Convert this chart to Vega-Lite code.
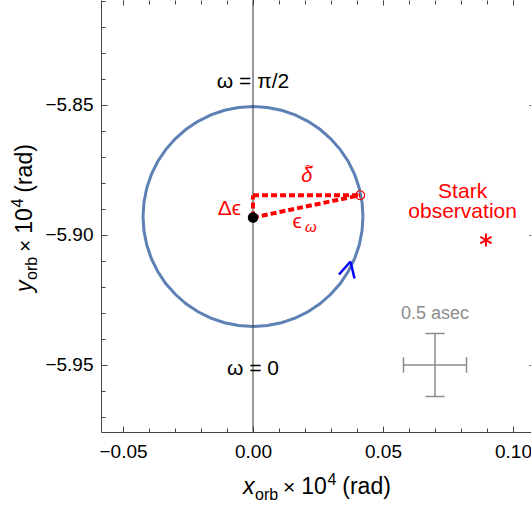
{
  "$schema": "https://vega.github.io/schema/vega-lite/v6.json",
  "width": 430,
  "height": 432,
  "autosize": {"type": "none"},
  "padding": {"left": 101, "top": 0, "right": 0, "bottom": 74},
  "config": {
    "view": {"stroke": null},
    "font": "Liberation Sans",
    "axis": {"grid": false, "domainColor": "#444", "tickColor": "#444", "tickWidth": 1, "domainWidth": 1, "labelColor": "#000", "labelFont": "Liberation Sans", "labelFontSize": 19, "title": null}
  },
  "datasets": {
    "circle": [
      {"i": 0, "x": 0.0423, "y": -5.8929}, {"i": 1, "x": 0.04194, "y": -5.88738}, {"i": 2, "x": 0.04086, "y": -5.88195},
      {"i": 3, "x": 0.03908, "y": -5.87671}, {"i": 4, "x": 0.03663, "y": -5.87175}, {"i": 5, "x": 0.03356, "y": -5.86715},
      {"i": 6, "x": 0.02991, "y": -5.86299}, {"i": 7, "x": 0.02575, "y": -5.85934}, {"i": 8, "x": 0.02115, "y": -5.85627},
      {"i": 9, "x": 0.01619, "y": -5.85382}, {"i": 10, "x": 0.01095, "y": -5.85204}, {"i": 11, "x": 0.00552, "y": -5.85096},
      {"i": 12, "x": 0.0, "y": -5.8506}, {"i": 13, "x": -0.00552, "y": -5.85096}, {"i": 14, "x": -0.01095, "y": -5.85204},
      {"i": 15, "x": -0.01619, "y": -5.85382}, {"i": 16, "x": -0.02115, "y": -5.85627}, {"i": 17, "x": -0.02575, "y": -5.85934},
      {"i": 18, "x": -0.02991, "y": -5.86299}, {"i": 19, "x": -0.03356, "y": -5.86715}, {"i": 20, "x": -0.03663, "y": -5.87175},
      {"i": 21, "x": -0.03908, "y": -5.87671}, {"i": 22, "x": -0.04086, "y": -5.88195}, {"i": 23, "x": -0.04194, "y": -5.88738},
      {"i": 24, "x": -0.0423, "y": -5.8929}, {"i": 25, "x": -0.04194, "y": -5.89842}, {"i": 26, "x": -0.04086, "y": -5.90385},
      {"i": 27, "x": -0.03908, "y": -5.90909}, {"i": 28, "x": -0.03663, "y": -5.91405}, {"i": 29, "x": -0.03356, "y": -5.91865},
      {"i": 30, "x": -0.02991, "y": -5.92281}, {"i": 31, "x": -0.02575, "y": -5.92646}, {"i": 32, "x": -0.02115, "y": -5.92953},
      {"i": 33, "x": -0.01619, "y": -5.93198}, {"i": 34, "x": -0.01095, "y": -5.93376}, {"i": 35, "x": -0.00552, "y": -5.93484},
      {"i": 36, "x": 0.0, "y": -5.9352}, {"i": 37, "x": 0.00552, "y": -5.93484}, {"i": 38, "x": 0.01095, "y": -5.93376},
      {"i": 39, "x": 0.01619, "y": -5.93198}, {"i": 40, "x": 0.02115, "y": -5.92953}, {"i": 41, "x": 0.02575, "y": -5.92646},
      {"i": 42, "x": 0.02991, "y": -5.92281}, {"i": 43, "x": 0.03356, "y": -5.91865}, {"i": 44, "x": 0.03663, "y": -5.91405},
      {"i": 45, "x": 0.03908, "y": -5.90909}, {"i": 46, "x": 0.04086, "y": -5.90385}, {"i": 47, "x": 0.04194, "y": -5.89842},
      {"i": 48, "x": 0.0423, "y": -5.8929}
    ],
    "dashes": [
      {"x": 0.0, "y": -5.8847, "x2": 0.0412, "y2": -5.8847},
      {"x": 0.0, "y": -5.8933, "x2": 0.0, "y2": -5.8847},
      {"x": 0.0, "y": -5.8933, "x2": 0.0412, "y2": -5.8847}
    ],
    "arrow": [
      {"x": 0.03308, "y": -5.9152, "x2": 0.0375, "y2": -5.9102},
      {"x": 0.0375, "y": -5.9102, "x2": 0.03904, "y2": -5.91674}
    ],
    "scalebar": [
      {"x": 0.05788, "y": -5.95, "x2": 0.08212, "y2": -5.95},
      {"x": 0.07, "y": -5.93788, "x2": 0.07, "y2": -5.96212},
      {"x": 0.05788, "y": -5.947, "x2": 0.05788, "y2": -5.953},
      {"x": 0.08212, "y": -5.947, "x2": 0.08212, "y2": -5.953},
      {"x": 0.0663, "y": -5.93788, "x2": 0.0737, "y2": -5.93788},
      {"x": 0.0663, "y": -5.96212, "x2": 0.0737, "y2": -5.96212}
    ],
    "txt": [
      {"g": "blk", "x": 0.0, "y": -5.84358, "text": "ω = π/2"},
      {"g": "blk", "x": 0.0, "y": -5.95385, "text": "ω = 0"},
      {"g": "red", "x": 0.08062, "y": -5.88577, "text": "Stark"},
      {"g": "red", "x": 0.08062, "y": -5.89346, "text": "observation"},
      {"g": "redi", "x": 0.02065, "y": -5.87962, "text": "δ"},
      {"g": "redt", "x": 0.02165, "y": -5.87558, "text": "~"},
      {"g": "redr", "x": -0.00462, "y": -5.89231, "text": "Δϵ"},
      {"g": "redl", "x": 0.01515, "y": -5.89712, "text": "ϵ"},
      {"g": "reds", "x": 0.02, "y": -5.89885, "text": "ω"},
      {"g": "gray", "x": 0.07, "y": -5.93243, "text": "0.5 asec"},
      {"g": "xti", "x": -0.003846, "y": -5.99962, "text": "x"},
      {"g": "xts", "x": 0.000769, "y": -6.00193, "text": "orb"},
      {"g": "xtm", "x": 0.011538, "y": -5.99962, "text": "×"},
      {"g": "xt", "x": 0.018577, "y": -5.99962, "text": "10"},
      {"g": "xts", "x": 0.028615, "y": -5.99616, "text": "4"},
      {"g": "xt", "x": 0.034346, "y": -5.99962, "text": "(rad)"},
      {"g": "yti", "x": -0.085, "y": -5.92193, "text": "y"},
      {"g": "yts", "x": -0.08308, "y": -5.91731, "text": "orb"},
      {"g": "ytm", "x": -0.085, "y": -5.90654, "text": "×"},
      {"g": "yt", "x": -0.085, "y": -5.8995, "text": "10"},
      {"g": "yts", "x": -0.08846, "y": -5.88947, "text": "4"},
      {"g": "yt", "x": -0.085, "y": -5.88374, "text": "(rad)"}
    ],
    "zero": [{"x": 0.0}],
    "dot": [{"x": 0.0, "y": -5.8933}],
    "ring": [{"x": 0.0412, "y": -5.8847}],
    "stark": [{"x": 0.0896, "y": -5.90193}]
  },
  "layer": [
    {
      "data": {"name": "circle"},
      "mark": {"type": "line", "color": "#5E81B5", "strokeWidth": 3, "clip": true},
      "encoding": {
        "x": {"field": "x", "type": "quantitative", "scale": {"domain": [-0.05846, 0.10692], "nice": false, "zero": false},
              "axis": {"orient": "bottom", "values": [-0.05, -0.04, -0.03, -0.02, -0.01, 0, 0.01, 0.02, 0.03, 0.04, 0.05, 0.06, 0.07, 0.08, 0.09, 0.1], "tickSize": -4, "labels": false, "domain": false}},
        "y": {"field": "y", "type": "quantitative", "scale": {"domain": [-5.97577, -5.80962], "nice": false, "zero": false},
              "axis": {"orient": "left", "values": [-5.97, -5.96, -5.95, -5.94, -5.93, -5.92, -5.91, -5.9, -5.89, -5.88, -5.87, -5.86, -5.85, -5.84, -5.83, -5.82, -5.81], "tickSize": -4, "labels": false, "domain": false}},
        "order": {"field": "i", "type": "quantitative"}
      }
    },
    {
      "data": {"name": "zero"},
      "mark": {"type": "rule", "color": "#333", "strokeWidth": 1},
      "encoding": {
        "x": {"field": "x", "type": "quantitative", "scale": {"domain": [-0.05846, 0.10692], "nice": false, "zero": false},
              "axis": {"orient": "bottom", "values": [-0.05, 0, 0.05, 0.1], "format": ".2f", "tickSize": -6, "labelPadding": 16, "domain": true, "labelFlush": false, "labelOverlap": false}}
      }
    },
    {
      "data": {"name": "dashes"},
      "mark": {"type": "rule", "color": "#FF0000", "strokeWidth": 4, "strokeDash": [6, 3]},
      "encoding": {
        "x": {"field": "x", "type": "quantitative", "scale": {"domain": [-0.05846, 0.10692], "nice": false, "zero": false},
              "axis": {"orient": "top", "values": [-0.05, 0, 0.05, 0.1], "tickSize": -5, "labels": false, "domain": false}},
        "y": {"field": "y", "type": "quantitative", "scale": {"domain": [-5.97577, -5.80962], "nice": false, "zero": false},
              "axis": {"orient": "left", "values": [-5.95, -5.9, -5.85], "format": ".2f", "tickSize": -6, "labelPadding": 14, "domain": true}},
        "x2": {"field": "x2"},
        "y2": {"field": "y2"}
      }
    },
    {
      "data": {"name": "arrow"},
      "mark": {"type": "rule", "color": "#0000FF", "strokeWidth": 2.5},
      "encoding": {
        "x": {"field": "x", "type": "quantitative", "scale": {"domain": [-0.05846, 0.10692], "nice": false, "zero": false},
              "axis": {"orient": "top", "values": [-0.05, -0.04, -0.03, -0.02, -0.01, 0, 0.01, 0.02, 0.03, 0.04, 0.05, 0.06, 0.07, 0.08, 0.09, 0.1], "tickSize": -4, "labels": false, "domain": false}},
        "y": {"field": "y", "type": "quantitative", "scale": {"domain": [-5.97577, -5.80962], "nice": false, "zero": false},
              "axis": {"orient": "right", "values": [-5.95, -5.9, -5.85], "tickSize": -2, "labels": false, "domain": false}},
        "x2": {"field": "x2"},
        "y2": {"field": "y2"}
      }
    },
    {
      "data": {"name": "scalebar"},
      "mark": {"type": "rule", "color": "#8C8C8C", "strokeWidth": 1.5},
      "encoding": {
        "x": {"field": "x", "type": "quantitative", "scale": {"domain": [-0.05846, 0.10692], "nice": false, "zero": false}, "axis": null},
        "y": {"field": "y", "type": "quantitative", "scale": {"domain": [-5.97577, -5.80962], "nice": false, "zero": false}, "axis": null},
        "x2": {"field": "x2"},
        "y2": {"field": "y2"}
      }
    },
    {
      "data": {"name": "dot"},
      "mark": {"type": "point", "shape": "circle", "filled": true, "color": "#000", "size": 110, "opacity": 1},
      "encoding": {
        "x": {"field": "x", "type": "quantitative", "scale": {"domain": [-0.05846, 0.10692], "nice": false, "zero": false}, "axis": null},
        "y": {"field": "y", "type": "quantitative", "scale": {"domain": [-5.97577, -5.80962], "nice": false, "zero": false}, "axis": null}
      }
    },
    {
      "data": {"name": "ring"},
      "mark": {"type": "point", "shape": "circle", "filled": false, "color": "#FF0000", "size": 80, "strokeWidth": 1.2, "opacity": 1},
      "encoding": {
        "x": {"field": "x", "type": "quantitative", "scale": {"domain": [-0.05846, 0.10692], "nice": false, "zero": false}, "axis": null},
        "y": {"field": "y", "type": "quantitative", "scale": {"domain": [-5.97577, -5.80962], "nice": false, "zero": false}, "axis": null}
      }
    },
    {
      "data": {"name": "stark"},
      "mark": {"type": "point", "shape": "M0,-1L0,1M-0.866,-0.5L0.866,0.5M-0.866,0.5L0.866,-0.5", "filled": false, "color": "#FF0000", "size": 170, "strokeWidth": 2, "opacity": 1},
      "encoding": {
        "x": {"field": "x", "type": "quantitative", "scale": {"domain": [-0.05846, 0.10692], "nice": false, "zero": false}, "axis": null},
        "y": {"field": "y", "type": "quantitative", "scale": {"domain": [-5.97577, -5.80962], "nice": false, "zero": false}, "axis": null}
      }
    },
    {
      "data": {"name": "txt"},
      "transform": [{"filter": "datum.g == 'blk'"}],
      "mark": {"type": "text", "color": "#000", "fontSize": 21, "align": "center", "baseline": "alphabetic"},
      "encoding": {
        "x": {"field": "x", "type": "quantitative", "scale": {"domain": [-0.05846, 0.10692], "nice": false, "zero": false}, "axis": null},
        "y": {"field": "y", "type": "quantitative", "scale": {"domain": [-5.97577, -5.80962], "nice": false, "zero": false}, "axis": null},
        "text": {"field": "text"}
      }
    },
    {
      "data": {"name": "txt"},
      "transform": [{"filter": "datum.g == 'red'"}],
      "mark": {"type": "text", "color": "#FF0000", "fontSize": 21, "align": "center", "baseline": "alphabetic"},
      "encoding": {
        "x": {"field": "x", "type": "quantitative", "scale": {"domain": [-0.05846, 0.10692], "nice": false, "zero": false}, "axis": null},
        "y": {"field": "y", "type": "quantitative", "scale": {"domain": [-5.97577, -5.80962], "nice": false, "zero": false}, "axis": null},
        "text": {"field": "text"}
      }
    },
    {
      "data": {"name": "txt"},
      "transform": [{"filter": "datum.g == 'redi'"}],
      "mark": {"type": "text", "color": "#FF0000", "fontSize": 20, "fontStyle": "italic", "align": "center", "baseline": "alphabetic"},
      "encoding": {
        "x": {"field": "x", "type": "quantitative", "scale": {"domain": [-0.05846, 0.10692], "nice": false, "zero": false}, "axis": null},
        "y": {"field": "y", "type": "quantitative", "scale": {"domain": [-5.97577, -5.80962], "nice": false, "zero": false}, "axis": null},
        "text": {"field": "text"}
      }
    },
    {
      "data": {"name": "txt"},
      "transform": [{"filter": "datum.g == 'redt'"}],
      "mark": {"type": "text", "color": "#FF0000", "fontSize": 15, "align": "center", "baseline": "alphabetic"},
      "encoding": {
        "x": {"field": "x", "type": "quantitative", "scale": {"domain": [-0.05846, 0.10692], "nice": false, "zero": false}, "axis": null},
        "y": {"field": "y", "type": "quantitative", "scale": {"domain": [-5.97577, -5.80962], "nice": false, "zero": false}, "axis": null},
        "text": {"field": "text"}
      }
    },
    {
      "data": {"name": "txt"},
      "transform": [{"filter": "datum.g == 'redr'"}],
      "mark": {"type": "text", "color": "#FF0000", "fontSize": 21, "align": "right", "baseline": "alphabetic"},
      "encoding": {
        "x": {"field": "x", "type": "quantitative", "scale": {"domain": [-0.05846, 0.10692], "nice": false, "zero": false}, "axis": null},
        "y": {"field": "y", "type": "quantitative", "scale": {"domain": [-5.97577, -5.80962], "nice": false, "zero": false}, "axis": null},
        "text": {"field": "text"}
      }
    },
    {
      "data": {"name": "txt"},
      "transform": [{"filter": "datum.g == 'redl'"}],
      "mark": {"type": "text", "color": "#FF0000", "fontSize": 21, "align": "left", "baseline": "alphabetic"},
      "encoding": {
        "x": {"field": "x", "type": "quantitative", "scale": {"domain": [-0.05846, 0.10692], "nice": false, "zero": false}, "axis": null},
        "y": {"field": "y", "type": "quantitative", "scale": {"domain": [-5.97577, -5.80962], "nice": false, "zero": false}, "axis": null},
        "text": {"field": "text"}
      }
    },
    {
      "data": {"name": "txt"},
      "transform": [{"filter": "datum.g == 'reds'"}],
      "mark": {"type": "text", "color": "#FF0000", "fontSize": 15, "fontStyle": "italic", "align": "left", "baseline": "alphabetic"},
      "encoding": {
        "x": {"field": "x", "type": "quantitative", "scale": {"domain": [-0.05846, 0.10692], "nice": false, "zero": false}, "axis": null},
        "y": {"field": "y", "type": "quantitative", "scale": {"domain": [-5.97577, -5.80962], "nice": false, "zero": false}, "axis": null},
        "text": {"field": "text"}
      }
    },
    {
      "data": {"name": "txt"},
      "transform": [{"filter": "datum.g == 'gray'"}],
      "mark": {"type": "text", "color": "#8C8C8C", "fontSize": 18, "align": "center", "baseline": "alphabetic"},
      "encoding": {
        "x": {"field": "x", "type": "quantitative", "scale": {"domain": [-0.05846, 0.10692], "nice": false, "zero": false}, "axis": null},
        "y": {"field": "y", "type": "quantitative", "scale": {"domain": [-5.97577, -5.80962], "nice": false, "zero": false}, "axis": null},
        "text": {"field": "text"}
      }
    },
    {
      "data": {"name": "txt"},
      "transform": [{"filter": "datum.g == 'xti'"}],
      "mark": {"type": "text", "color": "#000", "fontSize": 23, "fontStyle": "italic", "align": "left", "baseline": "alphabetic"},
      "encoding": {
        "x": {"field": "x", "type": "quantitative", "scale": {"domain": [-0.05846, 0.10692], "nice": false, "zero": false}, "axis": null},
        "y": {"field": "y", "type": "quantitative", "scale": {"domain": [-5.97577, -5.80962], "nice": false, "zero": false}, "axis": null},
        "text": {"field": "text"}
      }
    },
    {
      "data": {"name": "txt"},
      "transform": [{"filter": "datum.g == 'xt'"}],
      "mark": {"type": "text", "color": "#000", "fontSize": 23, "align": "left", "baseline": "alphabetic"},
      "encoding": {
        "x": {"field": "x", "type": "quantitative", "scale": {"domain": [-0.05846, 0.10692], "nice": false, "zero": false}, "axis": null},
        "y": {"field": "y", "type": "quantitative", "scale": {"domain": [-5.97577, -5.80962], "nice": false, "zero": false}, "axis": null},
        "text": {"field": "text"}
      }
    },
    {
      "data": {"name": "txt"},
      "transform": [{"filter": "datum.g == 'xtm'"}],
      "mark": {"type": "text", "color": "#000", "fontSize": 21, "align": "left", "baseline": "alphabetic"},
      "encoding": {
        "x": {"field": "x", "type": "quantitative", "scale": {"domain": [-0.05846, 0.10692], "nice": false, "zero": false}, "axis": null},
        "y": {"field": "y", "type": "quantitative", "scale": {"domain": [-5.97577, -5.80962], "nice": false, "zero": false}, "axis": null},
        "text": {"field": "text"}
      }
    },
    {
      "data": {"name": "txt"},
      "transform": [{"filter": "datum.g == 'xts'"}],
      "mark": {"type": "text", "color": "#000", "fontSize": 16, "align": "left", "baseline": "alphabetic"},
      "encoding": {
        "x": {"field": "x", "type": "quantitative", "scale": {"domain": [-0.05846, 0.10692], "nice": false, "zero": false}, "axis": null},
        "y": {"field": "y", "type": "quantitative", "scale": {"domain": [-5.97577, -5.80962], "nice": false, "zero": false}, "axis": null},
        "text": {"field": "text"}
      }
    },
    {
      "data": {"name": "txt"},
      "transform": [{"filter": "datum.g == 'yti'"}],
      "mark": {"type": "text", "color": "#000", "fontSize": 23, "fontStyle": "italic", "align": "left", "baseline": "alphabetic", "angle": 270},
      "encoding": {
        "x": {"field": "x", "type": "quantitative", "scale": {"domain": [-0.05846, 0.10692], "nice": false, "zero": false}, "axis": null},
        "y": {"field": "y", "type": "quantitative", "scale": {"domain": [-5.97577, -5.80962], "nice": false, "zero": false}, "axis": null},
        "text": {"field": "text"}
      }
    },
    {
      "data": {"name": "txt"},
      "transform": [{"filter": "datum.g == 'yt'"}],
      "mark": {"type": "text", "color": "#000", "fontSize": 23, "align": "left", "baseline": "alphabetic", "angle": 270},
      "encoding": {
        "x": {"field": "x", "type": "quantitative", "scale": {"domain": [-0.05846, 0.10692], "nice": false, "zero": false}, "axis": null},
        "y": {"field": "y", "type": "quantitative", "scale": {"domain": [-5.97577, -5.80962], "nice": false, "zero": false}, "axis": null},
        "text": {"field": "text"}
      }
    },
    {
      "data": {"name": "txt"},
      "transform": [{"filter": "datum.g == 'ytm'"}],
      "mark": {"type": "text", "color": "#000", "fontSize": 21, "align": "left", "baseline": "alphabetic", "angle": 270},
      "encoding": {
        "x": {"field": "x", "type": "quantitative", "scale": {"domain": [-0.05846, 0.10692], "nice": false, "zero": false}, "axis": null},
        "y": {"field": "y", "type": "quantitative", "scale": {"domain": [-5.97577, -5.80962], "nice": false, "zero": false}, "axis": null},
        "text": {"field": "text"}
      }
    },
    {
      "data": {"name": "txt"},
      "transform": [{"filter": "datum.g == 'yts'"}],
      "mark": {"type": "text", "color": "#000", "fontSize": 16, "align": "left", "baseline": "alphabetic", "angle": 270},
      "encoding": {
        "x": {"field": "x", "type": "quantitative", "scale": {"domain": [-0.05846, 0.10692], "nice": false, "zero": false}, "axis": null},
        "y": {"field": "y", "type": "quantitative", "scale": {"domain": [-5.97577, -5.80962], "nice": false, "zero": false}, "axis": null},
        "text": {"field": "text"}
      }
    }
  ],
  "resolve": {"axis": {"x": "independent", "y": "independent"}}
}
